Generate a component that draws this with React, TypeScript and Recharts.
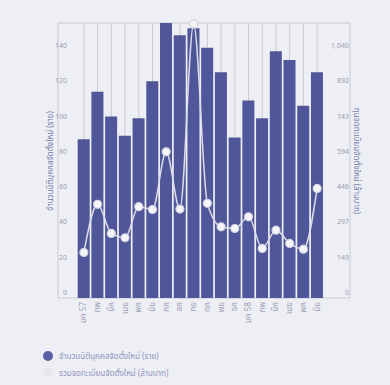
import React from "react";
import { Bar, CartesianGrid, ComposedChart, Line, XAxis, YAxis } from "recharts";

const months = [
  "มค 57", "กพ", "มีค", "เมย", "พค", "มิย", "กค", "สค", "กย",
  "ตค", "พย", "ธค", "มค 58", "กพ", "มีค", "เมย", "พค", "มิย"
];
const newCompanies = [90, 117, 103, 92, 102, 123, 156, 149, 153, 142, 128, 91, 112, 102, 140, 135, 109, 128];
const registeredCapital = [192, 395, 272, 254, 385, 373, 616, 375, 1155, 399, 300, 293, 342, 209, 286, 230, 206, 462];

const leftTicks = [0, 20, 40, 60, 80, 100, 120, 140];
const rightTicks = [0, 148.6, 297.2, 445.8, 594.4, 743, 891.6, 1040.2];
const rightTickLabels = ["0", "149", "297", "446", "594", "743", "892", "1,040"];

const leftTitle = "จำนวนนิติบุคคลจัดตั้งใหม่ (ราย)";
const rightTitle = "ทุนจดทะเบียนจัดตั้งใหม่ (ล้านบาท)";
const legendNames = ["จำนวนนิติบุคคลจัดตั้งใหม่ (ราย)", "รวมจดทะเบียนจัดตั้งใหม่ (ล้านบาท)"];

const data = months.map((m, i) => ({
  key: `${m}-${i}`,
  month: m,
  companies: newCompanies[i],
  capital: registeredCapital[i]
}));

const FONT = "'Noto Sans', 'Noto Sans Thai', sans-serif";
const BAR = "#4f5699";
const TICK = "#9a9cb4";
const TITLE = "#7479ad";

function LeftTick(props: any) {
  const { y, payload } = props;
  return (
    <text x={67} y={y - 3} textAnchor="end" fontSize={7} fill={TICK} fontFamily={FONT}>
      {payload.value}
    </text>
  );
}

function RightTick(props: any) {
  const { y, payload, index } = props;
  return (
    <text x={349} y={y - 3} textAnchor="end" fontSize={7} fill={TICK} fontFamily={FONT}>
      {rightTickLabels[index] ?? payload.value}
    </text>
  );
}

function MonthTick(props: any) {
  const { x, payload } = props;
  const label = months[payload.index] ?? payload.value;
  return (
    <text
      x={0}
      y={0}
      transform={`translate(${x + 2.5}, 302) rotate(-90)`}
      textAnchor="end"
      fontSize={8}
      fill={TICK}
      fontFamily={FONT}
    >
      {label}
    </text>
  );
}

export default function App() {
  return (
    <div
      style={{
        position: "absolute",
        left: 0,
        top: 0,
        width: 390,
        height: 385,
        background: "#eeeff4",
        fontFamily: FONT
      }}
    >
      <ComposedChart
        width={390}
        height={385}
        data={data}
        margin={{ top: 23, right: 0, bottom: 0, left: 0 }}
        barCategoryGap="5%"
      >
        <CartesianGrid stroke="#c9cad6" strokeWidth={1} />
        <XAxis
          dataKey="key"
          height={87}
          padding={{ left: 19, right: 26 }}
          axisLine={false}
          tickLine={false}
          interval={0}
          tick={<MonthTick />}
        />
        <YAxis
          yAxisId="left"
          width={58}
          domain={[0, 156]}
          ticks={leftTicks}
          axisLine={false}
          tickLine={false}
          tick={<LeftTick />}
        />
        <YAxis
          yAxisId="right"
          orientation="right"
          width={40}
          domain={[0, 1159.08]}
          ticks={rightTicks}
          axisLine={false}
          tickLine={false}
          tick={<RightTick />}
        />
        <Bar yAxisId="left" dataKey="companies" fill={BAR} isAnimationActive={false} />
        <Line
          yAxisId="right"
          dataKey="capital"
          type="monotone"
          stroke="#dcdde8"
          strokeWidth={1.5}
          dot={{ r: 4, fill: "#f6f6fa", stroke: "#d2d3e0", strokeWidth: 1.2 }}
          isAnimationActive={false}
        />
        <text
          transform="translate(53, 161) rotate(-90)"
          textAnchor="middle"
          fontSize={8}
          fill={TITLE}
          fontFamily={FONT}
        >
          {leftTitle}
        </text>
        <text
          transform="translate(354, 161) rotate(90)"
          textAnchor="middle"
          fontSize={8}
          fill={TITLE}
          fontFamily={FONT}
        >
          {rightTitle}
        </text>
      </ComposedChart>
      <div style={{ position: "absolute", left: 43, top: 347, fontSize: 8, color: "#8f93bd", lineHeight: "17px" }}>
        <div style={{ display: "flex", alignItems: "center" }}>
          <span style={{ width: 10, height: 10, borderRadius: 5, background: "#5a5fa6", marginRight: 6 }} />
          {legendNames[0]}
        </div>
        <div style={{ display: "flex", alignItems: "center" }}>
          <span style={{ width: 10, height: 10, borderRadius: 5, background: "#e6e6ef", marginRight: 6 }} />
          {legendNames[1]}
        </div>
      </div>
    </div>
  );
}
